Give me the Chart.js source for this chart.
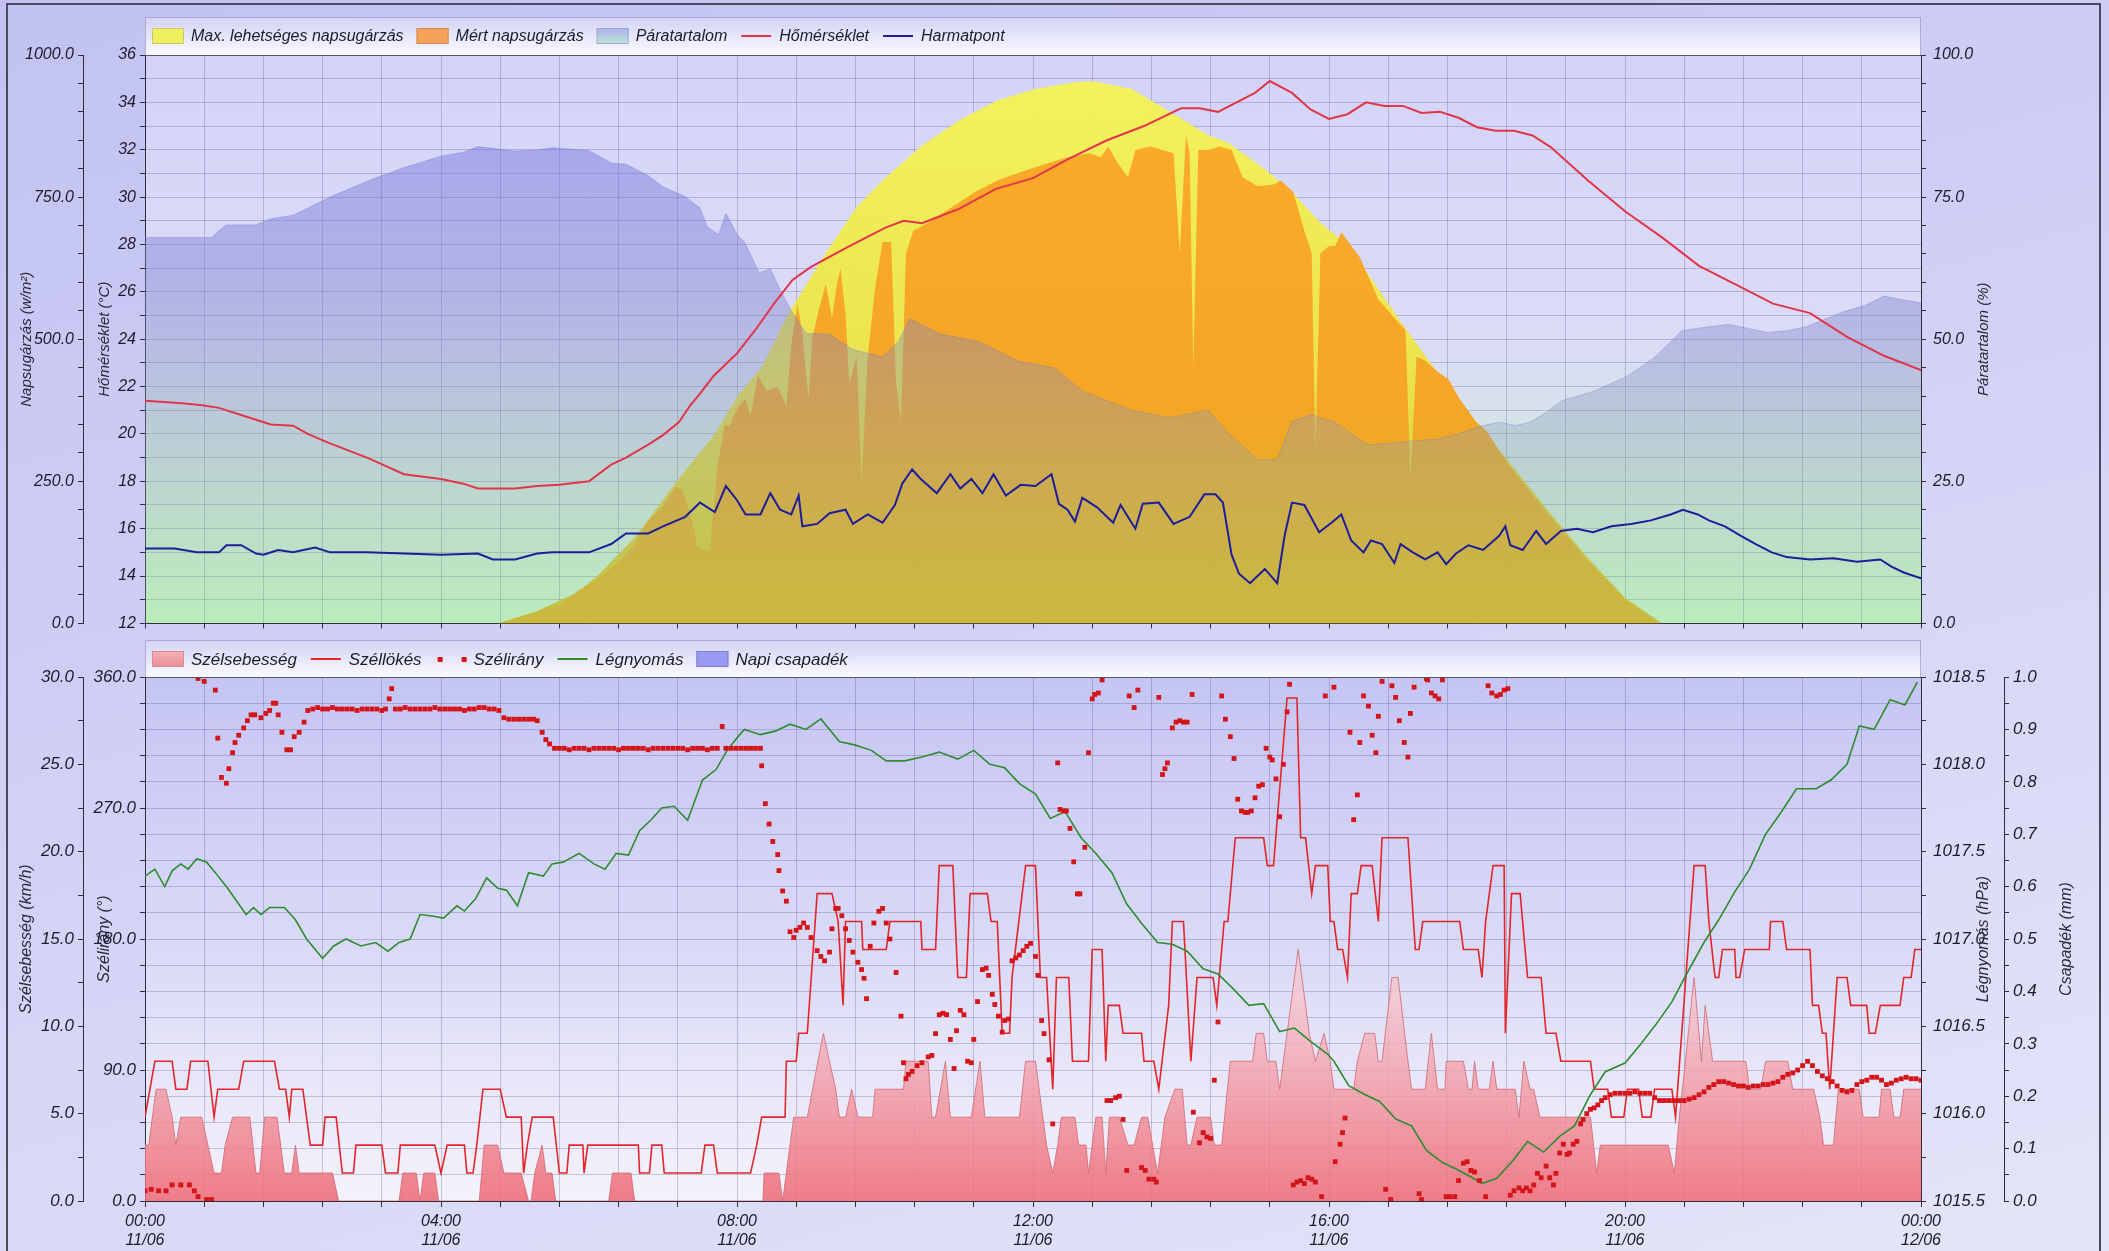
<!DOCTYPE html>
<html>
<head>
<meta charset="utf-8">
<script src="https://cdn.jsdelivr.net/npm/chart.js@4.4.1/dist/chart.umd.min.js"></script>
<style>
html, body { margin: 0; padding: 0; }
body {
  width: 2109px; height: 1251px; overflow: hidden; position: relative;
  background: linear-gradient(165deg, #c2c2f2 0%, #cfcff5 40%, #e4e4f9 100%);
}
canvas { position: absolute; left: 0; }
#topChart { top: 0; }
#bottomChart { top: 640px; }
#frame {
  position: absolute; left: 6px; top: 3px; width: 2095px; height: 1260px;
  border: 2px solid #4a4a5a; box-sizing: border-box; pointer-events: none;
}
</style>
</head>
<body>
<canvas id="topChart" width="2109" height="640"></canvas>
<canvas id="bottomChart" width="2109" height="611"></canvas>
<div id="frame"></div>
<script>
// === DATA (x = minutes since 00:00 on 11/06) ===
const timeLabels = ['00:00', '04:00', '08:00', '12:00', '16:00', '20:00', '00:00'];
const dateLabels = ['11/06', '11/06', '11/06', '11/06', '11/06', '11/06', '12/06'];

// W/m2
const maxRadiation = [[286,0],[318,22],[351,55],[368,86],[398,153],[430,247],[461,330],[482,405],[500,450],[521,543],[552,651],[577,732],[598,779],[629,839],[661,886],[691,920],[722,940],[754,952],[769,954],[800,940],[831,900],[862,859],[878,846],[908,799],[930,759],[953,705],[970,675],[990,620],[1020,525],[1050,435],[1080,350],[1104,290],[1137,200],[1170,115],[1200,45],[1230,0]];
const measuredRadiation = [[287,0],[305,12],[337,32],[352,59],[368,79],[383,106],[395,133],[408,180],[420,207],[430,241],[436,234],[442,194],[448,133],[458,127],[464,275],[470,349],[474,348],[481,382],[487,395],[491,365],[497,436],[504,409],[513,416],[520,382],[524,490],[529,563],[533,510],[538,395],[541,503],[547,557],[552,597],[557,537],[561,597],[564,624],[568,543],[571,422],[577,469],[581,247],[586,469],[592,590],[598,671],[605,671],[609,422],[613,355],[617,651],[623,691],[635,705],[654,732],[673,759],[691,779],[710,794],[728,807],[748,820],[766,827],[775,820],[781,839],[788,812],[797,785],[803,833],[815,839],[825,833],[834,827],[839,651],[844,859],[847,827],[850,449],[854,833],[862,833],[871,839],[881,833],[890,785],[902,769],[915,772],[921,779],[931,759],[940,691],[946,651],[949,301],[953,651],[960,664],[965,664],[970,688],[985,644],[1000,570],[1016,530],[1022,516],[1026,254],[1031,469],[1038,462],[1048,443],[1057,429],[1066,395],[1079,355],[1088,338],[1104,284],[1137,194],[1170,110],[1200,41],[1228,0]];
// %
const humidity = [[0,67.9],[54,67.9],[60,69.1],[66,70.1],[90,70.1],[102,71.2],[120,71.8],[150,75.0],[180,77.8],[210,80.2],[240,82.2],[258,82.9],[270,83.9],[300,83.1],[318,83.3],[330,83.7],[360,83.2],[378,81.0],[390,80.8],[408,78.8],[420,76.8],[438,75.1],[450,73.1],[456,69.8],[465,68.4],[471,72.1],[477,69.8],[480,68.4],[486,67.1],[498,61.7],[507,62.4],[516,58.3],[524,55.0],[536,51.0],[555,50.9],[574,48.2],[598,46.9],[611,49.6],[620,53.6],[645,50.9],[676,49.6],[707,46.2],[738,44.9],[760,40.9],[800,37.5],[831,36.2],[862,37.5],[878,33.5],[902,28.8],[918,28.8],[930,35.5],[946,36.8],[953,36.1],[965,35.4],[978,33.4],[991,31.4],[1010,31.7],[1028,32.1],[1048,32.4],[1066,33.4],[1085,34.8],[1098,35.4],[1111,34.8],[1123,35.4],[1136,37.1],[1148,39.1],[1174,40.8],[1202,43.5],[1224,46.8],[1246,51.5],[1268,52.2],[1284,52.6],[1300,51.9],[1315,51.2],[1331,51.5],[1347,52.2],[1363,53.6],[1378,54.9],[1394,55.9],[1410,57.6],[1426,56.9],[1440,56.4]];
// °C
const temperature = [[0,21.4],[30,21.3],[48,21.2],[60,21.1],[90,20.6],[102,20.4],[120,20.35],[132,20.0],[150,19.6],[180,19.0],[210,18.3],[240,18.1],[258,17.9],[270,17.7],[300,17.7],[318,17.8],[336,17.85],[360,18.0],[378,18.7],[390,19.0],[408,19.55],[420,19.95],[433,20.5],[442,21.2],[450,21.7],[461,22.45],[470,22.9],[480,23.4],[495,24.4],[510,25.5],[525,26.5],[540,27.05],[570,27.9],[600,28.7],[615,29.0],[630,28.9],[645,29.2],[660,29.5],[690,30.35],[720,30.8],[750,31.65],[780,32.4],[810,33.0],[840,33.75],[855,33.75],[870,33.6],[900,34.4],[912,34.9],[930,34.4],[945,33.7],[960,33.3],[975,33.5],[990,34.0],[1005,33.85],[1020,33.85],[1035,33.55],[1050,33.6],[1065,33.35],[1080,32.95],[1095,32.8],[1110,32.8],[1125,32.6],[1140,32.1],[1170,30.7],[1200,29.4],[1230,28.3],[1260,27.1],[1290,26.3],[1320,25.5],[1350,25.1],[1380,24.1],[1410,23.3],[1440,22.7]];
const dewPoint = [[0,15.16],[24,15.16],[42,15.0],[60,15.0],[66,15.3],[78,15.3],[90,14.95],[96,14.9],[108,15.1],[120,15.0],[138,15.2],[150,15.0],[180,15.0],[210,14.95],[240,14.9],[270,14.95],[282,14.7],[300,14.7],[318,14.95],[330,15.0],[360,15.0],[378,15.35],[390,15.8],[408,15.8],[420,16.1],[438,16.5],[450,17.1],[462,16.7],[471,17.8],[480,17.2],[487,16.6],[499,16.6],[507,17.5],[515,16.8],[524,16.6],[530,17.4],[533,16.1],[545,16.2],[555,16.65],[568,16.8],[574,16.2],[586,16.6],[598,16.25],[608,17.0],[614,17.9],[622,18.5],[629,18.1],[642,17.5],[653,18.3],[661,17.7],[670,18.1],[679,17.5],[688,18.3],[698,17.4],[710,17.85],[722,17.8],[735,18.3],[741,17.05],[748,16.8],[754,16.3],[760,17.3],[772,16.9],[785,16.25],[791,17.0],[803,16.0],[809,17.05],[822,17.1],[834,16.2],[847,16.5],[859,17.45],[868,17.45],[874,17.1],[881,14.9],[887,14.1],[896,13.7],[908,14.3],[918,13.7],[924,15.7],[930,17.1],[940,17.0],[952,15.85],[962,16.25],[970,16.6],[978,15.5],[988,15.0],[994,15.5],[1003,15.35],[1013,14.55],[1018,15.35],[1028,15.0],[1038,14.7],[1048,15.0],[1055,14.5],[1063,14.95],[1073,15.3],[1085,15.1],[1098,15.7],[1103,16.1],[1107,15.3],[1117,15.1],[1128,15.9],[1136,15.35],[1148,15.9],[1161,16.0],[1174,15.85],[1189,16.1],[1205,16.2],[1221,16.35],[1237,16.6],[1247,16.8],[1259,16.6],[1268,16.35],[1281,16.1],[1294,15.7],[1306,15.35],[1319,15.0],[1331,14.8],[1350,14.7],[1369,14.75],[1388,14.6],[1407,14.7],[1416,14.4],[1426,14.15],[1440,13.9]];

// km/h
const windSpeed = [[0,3.2],[3,3.2],[9,6.4],[17,6.4],[22,4.8],[25,3.2],[29,4.8],[46,4.8],[51,3.2],[56,1.6],[62,1.6],[65,3.2],[71,4.8],[85,4.8],[90,1.6],[93,1.6],[97,4.8],[107,4.8],[113,1.6],[119,1.6],[122,3.2],[125,1.6],[152,1.6],[157,0],[206,0],[209,1.6],[220,1.6],[223,0],[226,1.6],[235,1.6],[238,0],[271,0],[275,3.2],[286,3.2],[291,1.6],[305,1.6],[311,0],[313,0],[316,1.6],[322,3.2],[325,1.6],[330,1.6],[333,0],[376,0],[379,1.6],[394,1.6],[397,0],[501,0],[502,1.6],[514,1.6],[517,0],[523,3.2],[526,4.8],[537,4.8],[550,9.6],[560,6.4],[563,4.8],[568,4.8],[573,6.4],[578,4.8],[590,4.8],[592,6.4],[615,6.4],[617,8.0],[635,8.0],[638,4.8],[641,4.8],[649,8.0],[653,4.8],[670,4.8],[677,8.0],[681,4.8],[709,4.8],[714,8.0],[722,8.0],[731,3.2],[736,1.6],[740,3.2],[743,4.8],[754,4.8],[757,3.2],[763,3.2],[765,1.6],[771,4.8],[776,4.8],[779,1.6],[782,4.8],[790,4.8],[797,3.2],[802,3.2],[808,4.8],[813,4.8],[821,1.6],[827,4.8],[835,6.4],[841,6.4],[845,3.2],[848,3.2],[853,4.8],[864,4.8],[867,3.2],[873,3.2],[880,8.0],[898,8.0],[901,9.6],[907,9.6],[910,8.0],[917,8.0],[920,6.4],[926,9.6],[935,14.4],[944,9.6],[949,8.0],[956,9.6],[961,8.0],[964,6.4],[980,6.4],[983,8.0],[989,9.6],[997,9.6],[1000,8.0],[1003,8.0],[1011,12.8],[1016,12.8],[1024,8.0],[1027,6.4],[1038,6.4],[1043,9.6],[1048,6.4],[1054,6.4],[1055,8.0],[1069,8.0],[1073,6.4],[1076,6.4],[1078,8.0],[1081,6.4],[1090,6.4],[1093,8.0],[1096,6.4],[1111,6.4],[1114,4.8],[1118,8.0],[1123,6.4],[1126,6.4],[1131,4.8],[1172,4.8],[1177,1.6],[1180,3.2],[1235,3.2],[1240,1.6],[1244,4.8],[1249,8.0],[1256,12.8],[1262,8.0],[1265,11.2],[1271,8.0],[1298,8.0],[1301,6.4],[1310,6.4],[1314,8.0],[1332,8.0],[1336,6.4],[1353,6.4],[1358,4.8],[1361,3.2],[1369,3.2],[1373,6.4],[1390,6.4],[1393,4.8],[1406,4.8],[1408,6.4],[1415,6.4],[1418,4.8],[1423,4.8],[1426,6.4],[1440,6.4]];
const windGust = [[0,4.8],[8,8.0],[22,8.0],[25,6.4],[34,6.4],[37,8.0],[51,8.0],[56,4.8],[59,6.4],[76,6.4],[80,8.0],[105,8.0],[109,6.4],[114,6.4],[117,4.8],[119,6.4],[128,6.4],[134,3.2],[144,3.2],[146,4.8],[155,4.8],[160,1.6],[169,1.6],[171,3.2],[192,3.2],[195,1.6],[205,1.6],[207,3.2],[235,3.2],[240,1.6],[245,3.2],[259,3.2],[261,1.6],[266,1.6],[269,3.2],[274,6.4],[288,6.4],[293,4.8],[305,4.8],[307,1.6],[310,3.2],[314,4.8],[331,4.8],[336,1.6],[342,1.6],[344,3.2],[355,3.2],[356,1.6],[359,3.2],[400,3.2],[401,1.6],[409,1.6],[411,3.2],[419,3.2],[421,1.6],[451,1.6],[454,3.2],[461,3.2],[464,1.6],[491,1.6],[496,3.2],[500,4.8],[519,4.8],[520,8.0],[528,8.0],[530,9.6],[537,9.6],[545,17.6],[557,17.6],[562,16.0],[566,11.2],[568,16.0],[581,16.0],[582,14.4],[601,14.4],[604,16.0],[629,16.0],[630,14.4],[641,14.4],[644,19.2],[655,19.2],[659,12.8],[666,12.8],[669,17.6],[683,17.6],[686,16.0],[691,16.0],[695,9.6],[701,9.6],[703,12.8],[714,19.2],[722,19.2],[726,12.8],[731,12.8],[736,6.4],[739,12.8],[749,12.8],[752,8.0],[765,8.0],[768,14.4],[776,14.4],[779,8.0],[781,11.2],[790,11.2],[793,9.6],[808,9.6],[810,8.0],[818,8.0],[822,6.4],[830,11.2],[833,16.0],[842,16.0],[848,8.0],[853,12.8],[866,12.8],[869,11.2],[875,16.0],[878,16.0],[884,20.8],[907,20.8],[910,19.2],[915,19.2],[926,28.8],[934,28.8],[937,20.8],[941,20.8],[946,17.6],[949,19.2],[959,19.2],[961,16.0],[964,16.0],[967,14.4],[971,14.4],[975,12.8],[978,17.6],[983,17.6],[986,19.2],[995,19.2],[1000,16.0],[1003,20.8],[1024,20.8],[1030,14.4],[1033,14.4],[1036,16.0],[1066,16.0],[1069,14.4],[1081,14.4],[1084,12.8],[1087,16.0],[1093,19.2],[1102,19.2],[1103,9.6],[1108,17.6],[1115,17.6],[1121,12.8],[1132,12.8],[1136,9.6],[1144,9.6],[1148,8.0],[1172,8.0],[1175,6.4],[1186,6.4],[1189,4.8],[1199,4.8],[1202,6.4],[1211,6.4],[1214,4.8],[1221,4.8],[1224,6.4],[1238,6.4],[1241,4.8],[1256,19.2],[1265,19.2],[1268,16.0],[1273,12.8],[1276,12.8],[1279,14.4],[1289,14.4],[1290,12.8],[1293,12.8],[1297,14.4],[1317,14.4],[1318,16.0],[1328,16.0],[1331,14.4],[1350,14.4],[1352,11.2],[1357,11.2],[1360,9.6],[1363,9.6],[1366,6.4],[1372,12.8],[1380,12.8],[1383,11.2],[1396,11.2],[1398,9.6],[1403,9.6],[1407,11.2],[1423,11.2],[1426,12.8],[1432,12.8],[1435,14.4],[1440,14.4]];
// degrees
const windDirection = [[0,7],[5,8],[11,7],[17,7],[22,11],[29,11],[36,11],[40,7],[43,3],[50,1],[54,1],
[43,359],[48,357],[57,351],[59,318],[62,291],[66,287],[68,297],[71,308],[73,315],[76,320],[80,325],[83,330],[86,334],[89,334],[94,332],[98,335],[101,337],[104,342],[106,342],[108,334],[111,322],[115,310],[118,310],[121,319],[125,322],[129,329],[132,337],
[136,338],[140,339],[144,338],[148,338],[152,339],[156,338],[160,338],[164,338],[168,338],[172,337],[176,338],[180,338],[184,338],[188,338],[192,337],[195,338],[198,345],[200,352],[203,338],[207,338],[211,339],[215,338],[219,338],[223,338],[227,338],[231,338],[235,339],[239,338],[243,338],[247,338],[251,338],[255,338],[259,337],[263,338],[267,338],[271,339],[275,339],[279,338],[283,338],[287,337],
[291,332],[295,331],[299,331],[303,331],[307,331],[311,331],[315,331],[318,330],[322,322],[325,317],[328,314],[332,311],
[336,311],[340,311],[344,310],[348,311],[352,311],[356,311],[360,310],[364,311],[368,311],[372,311],[376,311],[380,311],[384,310],[388,311],[392,311],[396,311],[400,311],[404,311],[408,310],[412,311],[416,311],[420,311],[424,311],[428,311],[432,311],[436,311],[440,310],[444,311],[448,311],[452,311],[456,310],[460,311],[464,311],[468,326],[471,311],[475,311],[479,311],[483,311],[487,311],[491,311],[495,311],[499,311],
[500,299],[503,273],[506,259],[509,247],[513,238],[514,227],[517,213],[520,206],[523,185],[526,181],[528,186],[531,188],[534,191],[537,188],[540,181],[545,172],[548,168],[551,165],[555,171],[557,187],[560,201],[562,201],[565,196],[568,187],[571,179],[574,171],[578,164],[581,159],[583,153],[585,139],[588,175],[591,191],[595,199],[598,201],[601,191],[604,180],[609,157],[613,127],[615,95],[617,84],[619,87],[622,89],[626,93],[630,95],[635,99],[638,100],[641,115],[644,128],[647,129],[650,128],[653,111],[656,91],[658,117],[661,131],[664,128],[667,96],[670,95],[672,111],[675,137],[679,159],[682,160],[684,155],[687,142],[689,135],[692,127],[695,116],[697,124],[700,125],[703,165],[706,167],[709,169],[712,172],[715,175],[718,177],[722,168],[724,155],[727,124],[729,115],[733,97],[736,53],[740,301],[742,269],[745,268],[747,268],[750,256],[753,233],[756,211],[758,211],[762,243],[765,308],[768,345],[770,348],[773,349],[776,358],[780,69],[783,69],[787,71],[790,72],[793,56],[796,21],[798,347],[802,339],[805,351],[808,23],[811,21],[814,15],[818,15],[820,13],[822,346],[825,293],[827,297],[829,301],[833,325],[836,329],[839,330],[842,329],[845,329],[849,348],[850,61],[855,40],[858,47],[861,44],[864,43],[867,83],[870,123],[873,347],[876,331],[880,319],[883,304],[886,276],[889,268],[892,267],[894,267],[897,268],[900,277],[903,285],[906,286],[909,311],[912,305],[914,303],[917,290],[920,264],[923,300],[926,336],[928,355],[931,11],[934,13],[937,14],[940,12],[943,16],[946,15],[949,13],[954,3],[957,347],
[964,353],[965,27],[969,39],[971,47],[973,57],[977,322],[980,262],[983,279],[985,315],[988,347],[992,340],[995,320],[998,308],[1000,333],[1003,357],[1006,8],[1010,1],[1011,354],[1014,346],[1017,330],[1021,315],[1024,305],[1026,335],[1029,353],[1033,5],[1035,1],[1039,359],[1040,358],[1043,349],[1046,347],[1049,345],[1052,358],[1055,3],[1058,3],[1062,3],[1065,14],[1069,26],[1072,27],[1075,21],[1078,20],[1082,14],[1087,3],[1089,354],[1092,349],[1096,347],[1099,348],[1102,351],[1105,352],[1107,4],[1110,7],[1114,9],[1117,7],[1120,9],[1123,7],[1126,11],[1129,19],[1132,16],[1136,24],[1139,16],[1142,11],[1144,19],[1147,33],[1150,39],[1153,32],[1155,33],[1158,39],[1161,41],[1164,53],[1166,56],[1169,60],[1172,63],[1175,64],[1178,66],[1181,69],[1184,71],
[1188,73],[1192,74],[1196,74],[1200,74],[1204,74],[1208,75],[1212,74],[1216,74],[1220,74],[1224,71],[1228,69],[1232,69],[1236,69],[1240,69],[1244,69],[1248,69],[1252,70],[1256,71],[1260,73],[1264,75],[1268,78],[1272,80],[1276,82],[1280,82],[1284,81],[1288,80],[1292,79],[1296,79],[1300,78],[1304,79],[1308,79],[1312,80],[1316,80],[1320,81],[1324,82],[1328,85],[1332,87],[1336,88],[1340,90],[1344,93],[1348,96],[1352,93],[1356,89],[1360,86],[1364,84],[1368,82],[1372,79],[1376,76],[1380,75],[1384,76],[1388,80],[1392,82],[1396,83],[1400,85],[1404,85],[1408,83],[1412,80],[1416,81],[1420,83],[1424,84],[1428,85],[1432,84],[1436,84],[1440,83]];
// hPa
const pressure = [[0,1017.36],[8,1017.40],[16,1017.30],[22,1017.39],[29,1017.43],[35,1017.40],[42,1017.46],[50,1017.44],[57,1017.38],[67,1017.29],[76,1017.20],[82,1017.14],[88,1017.18],[94,1017.14],[101,1017.18],[113,1017.18],[122,1017.11],[131,1017.00],[144,1016.89],[153,1016.96],[163,1017.00],[175,1016.96],[187,1016.98],[197,1016.93],[206,1016.98],[215,1017.00],[223,1017.14],[234,1017.13],[242,1017.12],[253,1017.19],[259,1017.16],[268,1017.23],[277,1017.35],[286,1017.29],[293,1017.28],[302,1017.19],[311,1017.38],[323,1017.36],[330,1017.43],[339,1017.44],[352,1017.49],[364,1017.43],[373,1017.40],[382,1017.49],[392,1017.48],[401,1017.62],[410,1017.68],[419,1017.75],[429,1017.76],[440,1017.68],[452,1017.91],[463,1017.97],[472,1018.08],[481,1018.16],[486,1018.20],[499,1018.17],[511,1018.19],[523,1018.23],[536,1018.20],[548,1018.26],[563,1018.13],[576,1018.11],[589,1018.08],[601,1018.02],[616,1018.02],[629,1018.04],[644,1018.07],[659,1018.03],[672,1018.08],[685,1018.00],[697,1017.98],[709,1017.89],[722,1017.83],[734,1017.69],[746,1017.73],[759,1017.58],[771,1017.49],[784,1017.38],[796,1017.20],[808,1017.09],[821,1016.98],[833,1016.97],[845,1016.93],[858,1016.83],[870,1016.80],[883,1016.71],[895,1016.62],[907,1016.63],[920,1016.47],[932,1016.49],[944,1016.42],[959,1016.34],[964,1016.30],[976,1016.16],[989,1016.11],[1001,1016.07],[1014,1015.97],[1027,1015.93],[1039,1015.79],[1052,1015.72],[1064,1015.68],[1077,1015.63],[1084,1015.60],[1096,1015.63],[1109,1015.73],[1121,1015.84],[1134,1015.78],[1147,1015.87],[1159,1015.93],[1172,1016.11],[1184,1016.24],[1200,1016.29],[1213,1016.40],[1225,1016.51],[1238,1016.64],[1250,1016.80],[1264,1016.98],[1276,1017.11],[1289,1017.27],[1301,1017.40],[1314,1017.60],[1327,1017.73],[1339,1017.86],[1355,1017.86],[1367,1017.91],[1380,1018.0],[1390,1018.22],[1402,1018.20],[1415,1018.37],[1427,1018.34],[1437,1018.47]];
// mm
const dailyRain = [[0,0],[1440,0]];

// === Helpers ===
const FONT = "'Liberation Sans', Arial, sans-serif";
const GRID = 'rgba(70,70,125,0.26)';
const AXIS = '#2e2e3a';
Chart.defaults.font.family = FONT;
Chart.defaults.font.style = 'italic';
Chart.defaults.color = '#1c1c2c';

const xy = arr => arr.map(p => ({ x: p[0], y: p[1] }));

function areaGradient(ctx, stops) {
  const chart = ctx.chart;
  const a = chart.chartArea;
  if (!a) return stops[0][1];
  const g = chart.ctx.createLinearGradient(0, a.top, 0, a.bottom);
  stops.forEach(s => g.addColorStop(s[0], s[1]));
  return g;
}

function sideAxis(pos, weight, min, max, step, isLabel, fmt, title, titlePad, width, fontSize, tickPad) {
  return {
    type: 'linear', position: pos, weight: weight, min: min, max: max,
    ticks: {
      stepSize: step, autoSkip: false, padding: tickPad, font: { size: fontSize },
      callback: v => isLabel(v) ? fmt(v) : ''
    },
    grid: { drawOnChartArea: false, tickLength: 5, tickColor: AXIS },
    border: { color: AXIS },
    title: { display: !!title, text: title, color: '#2a2a3a', font: { size: fontSize - 1 }, padding: { top: titlePad, bottom: 0 } },
    afterFit: s => { s.width = width; }
  };
}
const near = (v, m) => Math.abs(v / m - Math.round(v / m)) < 1e-6;

// background, legend band, legend and right-hand titles
const framePlugin = {
  id: 'frame',
  beforeDraw(chart, args, o) {
    const { ctx, chartArea: a } = chart;
    ctx.save();
    let g = ctx.createLinearGradient(0, o.bandTop, 0, a.top);
    g.addColorStop(0, '#d2d2f5');
    g.addColorStop(1, '#fafaff');
    ctx.fillStyle = g;
    ctx.fillRect(a.left, o.bandTop, a.right - a.left, a.top - o.bandTop);
    ctx.strokeStyle = 'rgba(150,150,200,0.7)';
    ctx.strokeRect(a.left + 0.5, o.bandTop + 0.5, a.right - a.left - 1, a.top - o.bandTop);
    g = ctx.createLinearGradient(0, a.top, 0, a.bottom);
    o.bg.forEach(s => g.addColorStop(s[0], s[1]));
    ctx.fillStyle = g;
    ctx.fillRect(a.left, a.top, a.right - a.left, a.bottom - a.top);
    ctx.restore();
  },
  afterDraw(chart, args, o) {
    const { ctx, chartArea: a } = chart;
    ctx.save();
    ctx.strokeStyle = '#55556a';
    ctx.lineWidth = 1;
    ctx.beginPath();
    ctx.moveTo(a.left, a.top + 0.5);
    ctx.lineTo(a.right, a.top + 0.5);
    ctx.stroke();

    // legend
    ctx.font = 'italic ' + o.fontSize + 'px ' + FONT;
    ctx.textBaseline = 'middle';
    ctx.textAlign = 'left';
    const cy = Math.round((o.bandTop + a.top) / 2);
    let x = a.left + 7;
    chart.data.datasets.forEach(ds => {
      const lg = ds.legend;
      if (lg.type === 'box') {
        let fill = lg.color;
        if (Array.isArray(fill)) {
          const g = ctx.createLinearGradient(0, cy - 8, 0, cy + 8);
          g.addColorStop(0, fill[0]); g.addColorStop(1, fill[1]);
          fill = g;
        }
        ctx.fillStyle = fill;
        ctx.fillRect(x, cy - 8, 32, 16);
        ctx.strokeStyle = lg.edge;
        ctx.lineWidth = 1;
        ctx.strokeRect(x + 0.5, cy - 7.5, 31, 15);
      } else if (lg.type === 'line') {
        ctx.strokeStyle = lg.color;
        ctx.lineWidth = 2;
        ctx.beginPath();
        ctx.moveTo(x + 1, cy);
        ctx.lineTo(x + 31, cy);
        ctx.stroke();
      } else {
        ctx.fillStyle = lg.color;
        ctx.fillRect(x + 3, cy - 2, 5, 5);
        ctx.fillRect(x + 27, cy - 2, 5, 5);
      }
      ctx.fillStyle = '#1c1c2c';
      ctx.fillText(ds.label, x + 39, cy + 1);
      x += 39 + ctx.measureText(ds.label).width + 13;
    });

    // right-side titles read bottom to top like the left ones
    (o.rightTitles || []).forEach(t => {
      const s = chart.scales[t.axis];
      ctx.save();
      ctx.translate(t.x, (s.top + s.bottom) / 2);
      ctx.rotate(-Math.PI / 2);
      ctx.textAlign = 'center';
      ctx.fillStyle = '#2a2a3a';
      ctx.font = 'italic ' + (o.fontSize - 1) + 'px ' + FONT;
      ctx.fillText(t.text, 0, 0);
      ctx.restore();
    });
    ctx.restore();
  }
};

// === Top chart: radiation, humidity, temperature ===
new Chart(document.getElementById('topChart'), {
  type: 'line',
  plugins: [framePlugin],
  data: {
    datasets: [{
      label: 'Max. lehetséges napsugárzás',
      data: xy(maxRadiation), yAxisID: 'rad', order: 4,
      fill: 'origin', borderWidth: 0, pointRadius: 0,
      backgroundColor: c => areaGradient(c, [[0, 'rgba(245,245,90,0.96)'], [0.55, 'rgba(236,228,70,0.96)'], [1, 'rgba(206,186,40,0.96)']]),
      legend: { type: 'box', color: '#eef060', edge: '#c9c96a' }
    }, {
      label: 'Mért napsugárzás',
      data: xy(measuredRadiation), yAxisID: 'rad', order: 3,
      fill: 'origin', borderWidth: 0, pointRadius: 0,
      backgroundColor: c => areaGradient(c, [[0, 'rgba(252,168,40,0.97)'], [0.6, 'rgba(246,164,36,0.97)'], [1, 'rgba(214,178,40,0.97)']]),
      legend: { type: 'box', color: '#f4a25a', edge: '#d08a50' }
    }, {
      label: 'Páratartalom',
      data: xy(humidity), yAxisID: 'hum', order: 2,
      fill: 'origin', borderWidth: 1, borderColor: 'rgba(120,120,210,0.35)', pointRadius: 0,
      backgroundColor: c => areaGradient(c, [[0, 'rgba(100,100,230,0.46)'], [0.45, 'rgba(122,126,200,0.40)'], [0.75, 'rgba(138,170,175,0.30)'], [1, 'rgba(150,210,150,0.2)']]),
      legend: { type: 'box', color: ['#aab0ee', '#bfe6d4'], edge: '#a0a8d8' }
    }, {
      label: 'Hőmérséklet',
      data: xy(temperature), yAxisID: 'temp', order: 1,
      borderColor: '#e2354a', borderWidth: 2, pointRadius: 0, fill: false,
      legend: { type: 'line', color: '#e2354a' }
    }, {
      label: 'Harmatpont',
      data: xy(dewPoint), yAxisID: 'temp', order: 0,
      borderColor: '#1e1e9c', borderWidth: 2, pointRadius: 0, fill: false,
      legend: { type: 'line', color: '#1e1e9c' }
    }]
  },
  options: {
    responsive: false, animation: false, events: [],
    layout: { padding: { top: 55, left: 0, right: 0, bottom: 0 } },
    plugins: {
      legend: { display: false }, tooltip: { enabled: false },
      frame: {
        bandTop: 17, fontSize: 16,
        bg: [[0, '#d3d3f8'], [0.5, '#dcdcf7'], [0.8, '#d0ead8'], [1, '#c4f2c6']],
        rightTitles: [{ axis: 'hum', text: 'Páratartalom (%)', x: 1984 }]
      }
    },
    scales: {
      x: {
        type: 'linear', min: 0, max: 1440, z: 1,
        ticks: { display: false, stepSize: 48, autoSkip: false },
        grid: { color: GRID, tickLength: 5, tickColor: AXIS },
        border: { color: AXIS },
        afterFit: s => { s.height = 16; }
      },
      rad: sideAxis('left', 1, 0, 1000, 50, v => near(v, 250), v => v.toFixed(1), 'Napsugárzás (w/m²)', 18, 83, 16, 4),
      temp: Object.assign(
        sideAxis('left', 0, 12, 36, 1, v => near(v, 2), v => String(v), 'Hőmérséklet (°C)', 13, 62, 16, 4),
        { z: 1, grid: { drawOnChartArea: true, color: GRID, tickLength: 5, tickColor: AXIS } }),
      hum: sideAxis('right', 0, 0, 100, 5, v => near(v, 25), v => v.toFixed(1), '', 0, 188, 16, 7)
    }
  }
});

// === Bottom chart: wind, pressure, rain ===
new Chart(document.getElementById('bottomChart'), {
  type: 'line',
  plugins: [framePlugin],
  data: {
    datasets: [{
      label: 'Szélsebesség',
      data: xy(windSpeed), yAxisID: 'spd', order: 4,
      fill: 'origin', borderWidth: 1, borderColor: 'rgba(212,108,120,0.85)', pointRadius: 0,
      backgroundColor: c => {
        const chart = c.chart;
        const s = chart.scales.spd;
        if (!chart.chartArea || !s) return 'rgba(240,150,160,0.8)';
        const g = chart.ctx.createLinearGradient(0, s.getPixelForValue(0), 0, s.getPixelForValue(12));
        g.addColorStop(0, 'rgba(238,104,116,0.85)');
        g.addColorStop(1, 'rgba(246,198,206,0.8)');
        return g;
      },
      legend: { type: 'box', color: ['#f4b2b8', '#ee8e96'], edge: '#d88890' }
    }, {
      label: 'Széllökés',
      data: xy(windGust), yAxisID: 'spd', order: 3,
      borderColor: '#e2262a', borderWidth: 1.6, pointRadius: 0, fill: false,
      legend: { type: 'line', color: '#e2262a' }
    }, {
      label: 'Szélirány',
      data: xy(windDirection), yAxisID: 'dir', order: 1,
      showLine: false, pointStyle: 'rect', pointRadius: 3.4, borderWidth: 0,
      pointBackgroundColor: '#d41418', backgroundColor: '#d41418',
      legend: { type: 'dots', color: '#d41418' }
    }, {
      label: 'Légnyomás',
      data: xy(pressure), yAxisID: 'pres', order: 2,
      borderColor: '#2f8c30', borderWidth: 1.6, pointRadius: 0, fill: false,
      legend: { type: 'line', color: '#2f8c30' }
    }, {
      label: 'Napi csapadék',
      data: xy(dailyRain), yAxisID: 'rain', order: 0,
      borderColor: 'rgba(0,0,0,0)', borderWidth: 1, pointRadius: 0, fill: false,
      legend: { type: 'box', color: '#9a9af2', edge: '#7e7ed8' }
    }]
  },
  options: {
    responsive: false, animation: false, events: [],
    layout: { padding: { top: 37, left: 0, right: 0, bottom: 0 } },
    plugins: {
      legend: { display: false }, tooltip: { enabled: false },
      frame: {
        bandTop: 0, fontSize: 17,
        bg: [[0, '#c5c5f3'], [0.5, '#d9d9f7'], [1, '#f4f2fb']],
        rightTitles: [
          { axis: 'pres', text: 'Légnyomás (hPa)', x: 1984 },
          { axis: 'rain', text: 'Csapadék (mm)', x: 2067 }
        ]
      }
    },
    scales: {
      x: {
        type: 'linear', min: 0, max: 1440, z: 1,
        ticks: {
          stepSize: 48, autoSkip: false, maxRotation: 0, padding: 5, font: { size: 16 },
          callback: v => near(v, 240) ? [timeLabels[Math.round(v / 240)], dateLabels[Math.round(v / 240)]] : ''
        },
        grid: { color: GRID, tickLength: 6, tickColor: AXIS },
        border: { color: AXIS },
        afterFit: s => { s.height = 50; }
      },
      spd: sideAxis('left', 1, 0, 30, 2.5, v => near(v, 5), v => v.toFixed(1), 'Szélsebesség (km/h)', 17, 83, 17, 4),
      dir: Object.assign(
        sideAxis('left', 0, 0, 360, 18, v => near(v, 90), v => v.toFixed(1), 'Szélirány (°)', 12, 62, 17, 4),
        { z: 1, grid: { drawOnChartArea: true, color: GRID, tickLength: 5, tickColor: AXIS } }),
      pres: sideAxis('right', 0, 1015.5, 1018.5, 0.25, v => near(v, 0.5), v => v.toFixed(1), '', 0, 83, 17, 7),
      rain: sideAxis('right', 1, 0, 1, 0.05, v => near(v, 0.1), v => v.toFixed(1), '', 0, 105, 17, 4)
    }
  }
});
</script>
</body>
</html>
